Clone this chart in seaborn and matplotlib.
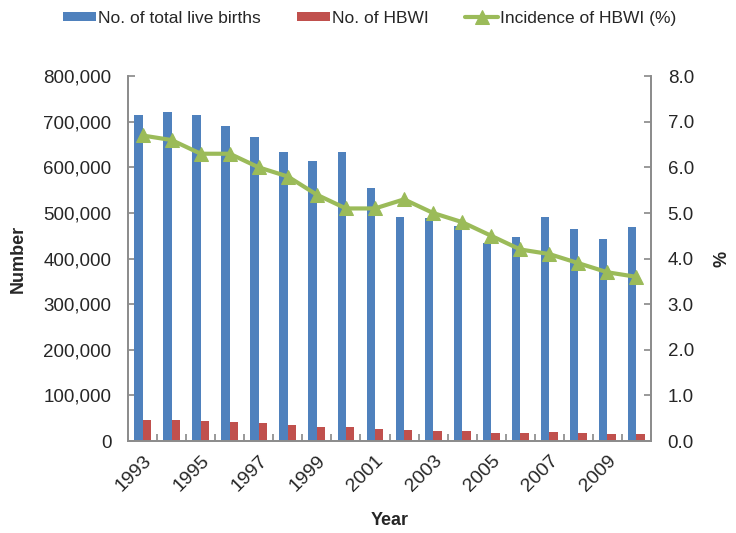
import numpy as np
import pandas as pd
import matplotlib
matplotlib.use("Agg")
import matplotlib.pyplot as plt
import seaborn as sns
from matplotlib.ticker import FuncFormatter, FixedLocator

# datos
years = [str(y) for y in range(1993, 2011)]
live_births = [715000, 721000, 715000, 690000, 667000, 634000, 614000, 634000, 554000,
               491000, 489000, 472000, 435000, 448000, 492000, 465000, 444000, 469000]
hbwi = [47000, 46500, 43000, 42000, 39000, 35000, 31000, 30500, 26500,
        24000, 22500, 21000, 18500, 17000, 19000, 17000, 15000, 15500]
incidence = [6.7, 6.6, 6.3, 6.3, 6.0, 5.8, 5.4, 5.1, 5.1,
             5.3, 5.0, 4.8, 4.5, 4.2, 4.1, 3.9, 3.7, 3.6]

BLUE, RED, GREEN, GRAY = "#4F81BD", "#C0504D", "#9BBB59", "#8C8C8C"

sns.set_theme(style="white")
plt.rcParams["font.family"] = ["Liberation Sans", "DejaVu Sans"]

df = pd.DataFrame({"Year": years * 2,
                   "Value": live_births + hbwi,
                   "Serie": ["No. of total live births"] * len(years) + ["No. of HBWI"] * len(years)})

fig = plt.figure(figsize=(7.36, 5.33), dpi=100)
ax = fig.add_axes([0.174, 0.1726, 0.7105, 0.6844])

sns.barplot(data=df, x="Year", y="Value", hue="Serie", palette=[BLUE, RED],
            width=0.58, dodge=True, ax=ax, saturation=1, gap=0, linewidth=0)
h1, l1 = ax.get_legend_handles_labels()
ax.get_legend().remove()

ax2 = ax.twinx()
sns.lineplot(x=np.arange(len(years)), y=incidence, ax=ax2, color=GREEN, lw=3,
             marker="^", markersize=10, markeredgecolor=GREEN,
             label="Incidence of HBWI (%)")
h2, l2 = ax2.get_legend_handles_labels()
ax2.get_legend().remove()

n = len(years)
for a in (ax, ax2):
    a.set_xlim(-0.5, n - 0.5)
    for s in a.spines.values():
        s.set_color(GRAY)
    a.spines["top"].set_visible(False)

ax.set_ylim(0, 800000)
ax.set_yticks(np.arange(0, 800001, 100000))
ax.yaxis.set_major_formatter(FuncFormatter(lambda v, p: f"{int(v):,}"))
ax2.set_ylim(0, 8)
ax2.set_yticks(np.arange(0, 8.01, 1))
ax2.yaxis.set_major_formatter(FuncFormatter(lambda v, p: f"{v:.1f}"))

# marcas entre categorias, etiquetas cada dos anios
ax.xaxis.set_major_locator(FixedLocator(np.arange(-0.5, n, 1)))
ax.set_xticklabels([])
ax.xaxis.set_minor_locator(FixedLocator(np.arange(0, n, 2)))
ax.set_xticklabels(years[::2], minor=True, rotation=45, ha="right",
                   rotation_mode="anchor", fontsize=14)
ax.tick_params(axis="x", which="minor", length=0, pad=8)
ax.tick_params(axis="x", which="major", direction="in", length=5, color=GRAY, bottom=True)
ax.tick_params(axis="y", direction="in", length=5, color=GRAY, labelsize=13.5, left=True, pad=12)
ax2.tick_params(axis="y", direction="in", length=5, color=GRAY, labelsize=13.5, right=True, pad=12)

ax.set_xlabel("Year", fontsize=13, fontweight="bold", labelpad=12)
ax.set_ylabel("Number", fontsize=13, fontweight="bold", labelpad=12)
ax2.set_ylabel("%", fontsize=13, fontweight="bold", labelpad=14)

fig.legend(h1 + h2, l1 + l2, loc="center left", bbox_to_anchor=(0.085, 0.966), ncol=3,
           frameon=False, fontsize=12.5, handlelength=1.9, handleheight=0.5,
           columnspacing=2.1, handletextpad=0.12, borderpad=0, borderaxespad=0)

fig.savefig("out.png", dpi=100)
